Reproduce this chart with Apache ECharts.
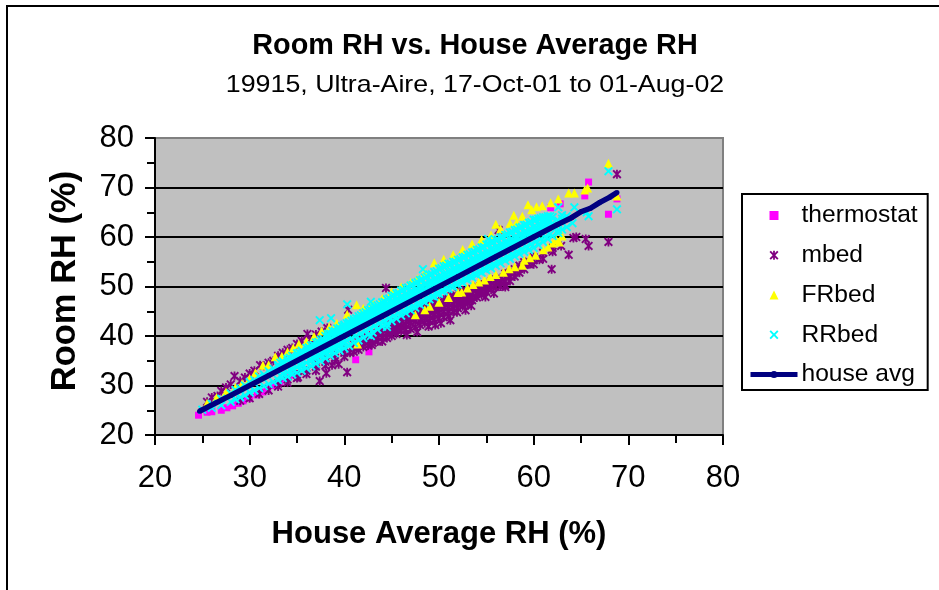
<!DOCTYPE html>
<html>
<head>
<meta charset="utf-8">
<title>Room RH vs. House Average RH</title>
<script src="https://cdn.jsdelivr.net/npm/echarts@6/dist/echarts.min.js"></script>
<style>
html, body { margin: 0; padding: 0; background: #fff; }
#chart { width: 939px; height: 590px; }
</style>
</head>
<body>
<div id="chart"></div>
<script>
// every row is [house avg, room RH, room RH, ...]
const thermostatRows = [
    [24.6,24],[25.5,24.6],[26,24.7],[27,25],[27.6,25.5],[28.2,25.9],[28.8,26.4],[29.3,26.9],[30,27.4],[30.8,28.1],
    [31.4,28.7],[31.9,29.3],[32.6,30],[33.2,30.7],[33.9,31.5],[34.6,32.1],[41.2,35.2],[42.6,36.8],
    [61.8,65.9],[62.8,66.7],[65.4,68.3],[65.8,71.1],[67.9,64.6],[68.8,67.7]
];
const mbedRows = [
    [25.5,26.7],[26,27.6],[26.6,27.9],[27,28.9],[27.5,29.6],[28,30.2],[28.4,31.9],[29,30.9],[29.5,31.6],[30,32.4],
    [30.5,33],[31.1,34.1],[31.5,34],[32,34.6],[32.5,35],[33,36],[33.5,36.6],[34,37.2],[34.5,37.6],[35,38.4],
    [35.5,39],[36.1,40.4],[36.4,39.3],[37,40.3],[37.6,40.9],[38.2,41.6],[40.4,45.3],[44.4,49.7],[56.3,61.4],[68.8,72.7],
    [29,26.9],[30,27.4],[31,28.3],[32,29],[33,29.8,30.4],[34,30.6,31.2],[35,31.5,32.2],[35.1,31.7],[36,32.3,33],
    [37,33,33.8,34.6],[37.4,30.9],[38,34,34.8,35.6],[38.1,32.5],[38.7,34.1],[39,34.9,35.6,36.4],[39.4,34.3],
    [40,35.8,36.6,37.4],[40.3,32.7],[40.6,36.6],[41,36.8,37.6,38.4],[41.5,37.2,38.1,38.9],[42,37.8,38.5,39.2],
    [42.5,38.1,38.9,39.7],[42.9,38.2],[43,38.6,39.3,40.1],[43.5,38.9,39.8,40.6],[44,38.9,39.7,40.5,41.3],
    [44.5,39.6,40.4,41.2,41.9],[45,40,40.8,41.6,42.3],[45.5,40.4,41.3,42.1,42.8],[46,41,41.8,42.6,43.2],
    [46.5,41.3,42.2,43,43.7],[47,41.4,42.6,43.4,44.2],[47.5,41.8,43,43.8,44.6],[48,42.2,43.2,44,44.8,45.4],
    [48.5,42.6,43.6,44.4,45.2,45.9],[49,43,44,44.8,45.6,46.4],[49.5,43.3,44.3,45.1,45.9,46.7],[50,43.6,44.6,45.4,46.2,47],
    [50.5,43.8,44.9,45.7,46.5,47.3],[51,44,45,45.8,46.6,47.4,48],[51.5,44.9,45.7,46.5,47.3,48.1],[51.9,44.8],
    [52,45.6,46.4,47.2,48,48.8],[52.5,46,46.9,47.7,48.5,49.2],[53,46.6,47.4,48.2,49],[53.5,47.2,47.9,48.7,49.5],
    [54,47.8,48.6,49.4,50],[54.5,48.3,49.1,49.9,50.4],[55,48.9,49.7,50.5],[55.5,49.4,50.2,51],[56,49.9,50.7,51.4],
    [56.5,50,50.9,51.7],[57,49.9,50.3,51.1,51.9,52.6],[57.5,51.1,52,52.8],[58,52,52.8,53.5],[58.5,52.8,53.6,54.2],
    [59,53.5,54.4,54.9],[59.5,54.5,55],[60,54.5,55.3,55.9],[60.6,55.4],[61,55.6,56.8],[61.9,53.5,57.4],[62,57,57.8],
    [62.9,58.2],[63.7,56.4],[64.2,59.8],[64.5,60],[65.5,59.6],[65.8,58.2],[67.9,59],
    [46.6,40.2],[47.7,40.8],[48.9,41.9],[49.6,42.2],[50.2,42.6],[51.2,43.2],[52.8,45.2],[53.4,46.1],[54.9,47.9],[55.8,48.6]
];
const frbedRows = [
    [25.5,26.4],[26.5,27.6],[27.5,28.7],[28.5,29.6],[29.2,30.4],[30,31.4],[30.6,32.6],[31.4,34.1],[32,34.2],[32.7,35.8],
    [33.4,35.9],[34,36.8],[34.6,37.6],[35.2,38.4],[36,38.9],[36.8,39.9],[37.6,41],[38.4,41.8],[39.2,42.6],[40.3,44.4],
    [41.3,46.3],[41.4,38.4],[42,45.6],[43,46.6],[44,47.6],[45,48.9],[46,49.9],[47,50.8],[47.7,51.5],[48.5,52.8],
    [49.5,54.8],[50.5,55.5],[51.5,56.4],[52.5,57.5],[53.5,58.6],[54.5,59.5],[55.5,60.4],[56,62.6],[56.5,61.6],[57.5,62.8],
    [57.9,64.4],[58.2,63],[58.8,64.2],[59.4,66.5],[59.8,65.5],[60.3,66.1],[60.9,66.3],[61.8,66.9],[62.6,67.7],[63.7,68.9],
    [64.3,68.9],[65.4,69.5],[65.7,69.9],[67.9,74.9],[68.8,68.3],
    [47.5,44.3],[48.5,45.3],[49,46],[50,46.8],[51,47.8],[52,48.8],[52.4,48.9],
    [53,49.7],[53.6,50.4],[54.2,50.9],[54.8,51.3],[55.4,52],[56,52.4],[56.8,52.9],[57.4,53.6],[58,54],[58.8,54.3],
    [59,55.3],[59.6,55.8],[60.2,56.3],[61,57.4],[61.5,58],[62,58.8],[62.4,59.4],[62.7,59],[63,60.2]
];
const rrbedRows = [
    [25,25.1],[26,25.5,26.3],[27,26,27.3],[28,26.7,28.4],[28.5,27.2,29.1],[29,27.6,29.4],[29.5,28,30],[30,28.6,30.7],
    [30.5,29,31.1],[31,29.5,31.8],[31.5,29.9,32.2],[32,30.3,32.9],[32.5,30.7,33.4],[33,31.1,33.9,34.2],
    [33.5,31.5,32.3,34.4,34.9],[34,31.8,32.7,35,35.4],[34.5,32.2,33.2,35.4,36],[35,32.6,33.7,35.9,36.5],
    [35.5,33,34.1,36.4,37],[36,33.5,34.6,36.9,37.6],[36.5,33.9,35.1,37.4,38.1],[37,34.4,35.6,37.9,38.7],
    [37.5,34.9,36.1,38.4,39.2],[38,35.5,36.6,38.9,40],[38.5,36,37.1,39.4,40.5],[39,36.5,37.6,39.9,41],
    [39.5,37,38.1,40.4,41.1,41.6],[40,37.5,38.6,40.9,42,42.3],[40.5,38,41.4,42.5,42.8],[41,38.6,41.9,43,43.4],
    [41.5,39.1,42.4,43.5,44],[42,39.6,42.9,44,44.6],[42.5,40.2,43.4,44.5,45.2],[43,40.7,43.9,45,45.7],
    [43.5,41.3,44.4,45.5,46.2],[44,41.9,44.9,46,46.8],[44.5,42.4,45.4,46.5,47.4],[45,43,45.9,47,48.1],
    [45.5,43.5,46.4,47.5,48.6],[46,44.1,46.9,48,49.2],[46.5,44.6,47.4,48.5,49.7],[47,45.2,47.9,49,50.2],
    [47.5,45.7,48.4,49.5,50.7],[48,46.3,48.9,50,51.3],[48.5,46.8,49.4,50.5,51.8],[49,47.4,49.9,51,52.4],
    [49.5,47.9,50.4,51.5,52.9],[50,48.5,50.9,52,53.6],[50.5,49,51.4,52.5,54.1],[51,49.5,51.9,53,54.6],
    [51.5,49.9,52.4,53.5,55],[52,50.4,52.9,54,55.4],[52.5,50.8,53.4,54.5,55.9],[53,51.3,53.9,55,56.4],
    [53.5,51.8,54.4,55.5,56.9],[54,52.3,54.9,56,57.4],[54.5,52.8,55.4,56.5,57.9],[55,53.3,55.9,57,58.5],
    [55.5,53.7,56.4,57.5,59],[56,54.2,56.9,58,59.4],[56.5,54.7,57.4,58.5,59.9],[57,55.2,57.9,59,60.4],
    [57.5,55.6,58.4,59.5,60.9],[58,56.1,58.9,60,61.4],[58.5,56.6,59.4,60.5,61.9],[59,57,59.9,61,62.4],
    [59.5,57.4,60.4,61.5,62.9],[60,57.8,60.9,62,63.5],[60.5,58.4,61.4,62.5,63.7],[61,59,61.9,63,64],
    [61.5,59.6,62.4,63.5,64.2],[62,60.2,62.8,64],[62.6,60.8,61.4,63.3,66],[63,61.5,63.7,64.4],[63.5,62,64.2],
    [37.4,43.2],[38.6,43.6],[40.3,46.4],[42.8,46.9,40],[44.5,41.8],[48.3,53.5],[55.2,59.6],[64.1,62.8],[64.3,66],
    [65.6,65],[65.8,64.2],[67.9,73.3],[68.8,65.6],
    // readings between the rows above, the band is solid in the picture
    [33.25,32,34.6],[34.25,33.1,35.6],[35.25,34.1,36.6],[36.25,35.1,37.7],[36.75,35.6,38.2],[37.25,36.1,38.8],[37.75,36.6,39.4],
    [38.25,37.1,39.9,40.4],[38.75,37.6,40.4,41],[39.25,38.1,40.8,41.5],[39.75,38.6,41.3,42],[40.25,39.1,41.7,42.6],
    [40.75,39.6,42.2,43.1],[41.25,40.1,42.7,43.6],[41.75,40.6,43.2,44.2],[42.25,41.1,43.7,44.8],[42.75,41.6,44.2,45.3],
    [43.25,42.1,44.7,45.8],[43.75,42.6,45.2,46.4],[44.25,43.1,45.7,46.9],[44.75,43.6,46.2,47.6],[45.25,44.1,46.7,48.2],
    [45.75,44.6,47.2,48.7],[46.25,45.1,47.7,49.3],[46.75,45.6,48.2,49.8],[47.25,46.1,48.7,50.3],[47.75,46.6,49.2,50.9],
    [48.25,47.1,49.7,51.4],[48.75,47.6,50.2,52],[49.25,48.1,50.7,52.5],[49.75,48.6,51.2,53.1],[50.25,49.1,51.7,53.7],
    [50.75,49.6,52.2,54.2],[51.25,50.1,52.7,54.6],[51.75,50.6,53.2,55],[52.25,51.1,53.7,55.5],[52.75,51.6,54.2,56],
    [53.25,52.1,54.7,56.5],[53.75,52.6,55.2,57],[54.25,53.1,55.7,57.5],[54.75,53.6,56.2,58],[55.25,54.1,56.7,58.6],
    [55.75,54.6,57.2,59],[56.25,55.1,57.7,59.5],[56.75,55.6,58.2,60],[57.25,56.1,58.7,60.5],[57.75,56.6,59.2,61],
    [58.25,57.1,59.7,61.5],[58.75,57.6,60.2,62],[59.25,58.1,60.7,62.5],[59.75,58.6,61.2,63],[60.25,59.1,61.7,63.5],
    [60.75,59.6,62.2,63.8],[61.25,60.1,62.7,64],[61.75,60.6,63.2,64.2]
];
const houseAvgRows = [
    [24.7,24.8],[28,28],[32,32],[36,36],[40,40],[44,44],[48,48],[52,52],[56,56],[60,60],
    [62.5,62.5],[64,63.9],[65,65.1],[66,65.8],[67,67],[68,68],[68.8,69]
];
const axisTicks = { min: 20, max: 80, step: 10 };
const titleText = 'Room RH vs. House Average RH';
const subtitleText = '19915, Ultra-Aire, 17-Oct-01 to 01-Aug-02';
const xTitle = 'House Average RH (%)';
const yTitle = 'Room RH (%)';

const squarePath = 'path://M0 0H10V10H0Z';
const trianglePath = 'path://M5 0L10 10H0Z';
const crossPath = 'path://M0 1.5L1.5 0L5 3.5L8.5 0L10 1.5L6.5 5L10 8.5L8.5 10L5 6.5L1.5 10L0 8.5L3.5 5Z';
const starPath = 'path://M0 1.5L1.5 0L5 3.5L8.5 0L10 1.5L6.5 5L10 8.5L8.5 10L5 6.5L1.5 10L0 8.5L3.5 5ZM4 0H6V10H4Z';

function toPoints(rows) {
    const points = [];
    rows.forEach(function (row) {
        for (let i = 1; i < row.length; i++) {
            points.push([row[0], row[i]]);
        }
    });
    return points;
}

function scatter(name, rows, symbol, size, color) {
    return {
        name: name,
        type: 'scatter',
        data: toPoints(rows),
        symbol: symbol,
        symbolSize: size,
        itemStyle: { color: color, opacity: 1 },
        silent: true
    };
}

function valueAxis(name, gap, nameSize) {
    return {
        type: 'value',
        min: axisTicks.min,
        max: axisTicks.max,
        interval: axisTicks.step,
        name: name,
        nameLocation: 'middle',
        nameGap: gap,
        nameTextStyle: { fontFamily: 'Liberation Sans', fontWeight: 'bold', fontSize: nameSize, color: '#000' },
        axisLine: { show: true, onZero: false, lineStyle: { color: '#000', width: 2 } },
        axisTick: { show: true, inside: false, length: 10, lineStyle: { color: '#000', width: 2 } },
        minorTick: { show: true, splitNumber: 2, length: 8, lineStyle: { color: '#000', width: 2 } },
        axisLabel: { fontFamily: 'Liberation Sans', fontSize: 31, color: '#000', margin: 21 }
    };
}

const chart = echarts.init(document.getElementById('chart'));
const xAxis = valueAxis(xTitle, 84, 31);
xAxis.splitLine = { show: false };
xAxis.axisLabel.margin = 28;
const yAxis = valueAxis(yTitle, 72, 34.5);
yAxis.nameTextStyle.padding = [0, 0, 0, 11];
yAxis.splitLine = { show: true, showMinLine: false, showMaxLine: false, lineStyle: { color: '#000', width: 2 } };

chart.setOption({
    animation: false,
    backgroundColor: '#fff',
    title: { text: titleText, left: 470, top: 27, textAlign: 'center',
        textStyle: { fontFamily: 'Liberation Sans', fontWeight: 'bold', fontSize: 28.8, color: '#000' } },
    grid: { left: 155, top: 138, width: 568, height: 297, show: true, backgroundColor: '#c0c0c0', borderColor: '#808080', borderWidth: 2 },
    xAxis: xAxis,
    yAxis: yAxis,
    legend: {
        orient: 'vertical',
        left: 742,
        top: 194,
        padding: [9, 10, 3, 6],
        borderColor: '#000',
        borderWidth: 2,
        backgroundColor: '#fff',
        itemWidth: 47,
        itemHeight: 9,
        itemGap: 14.75,
        lineStyle: { width: 5 },
        textStyle: { fontFamily: 'Liberation Sans', fontSize: 24.6, lineHeight: 24, color: '#000', padding: [0, 0, 0, -1] },
        data: ['thermostat', 'mbed', 'FRbed', 'RRbed', 'house avg']
    },
    graphic: [
        { type: 'rect', z: -1, shape: { x: 7, y: 6, width: 960, height: 620 },
          style: { fill: 'none', stroke: '#000', lineWidth: 2 } },
        { type: 'text', x: 475, y: 85, scaleX: 1.115,
          style: { text: subtitleText, font: '24px "Liberation Sans"', fill: '#000', textAlign: 'center', textVerticalAlign: 'middle' } }
    ],
    series: [
        scatter('thermostat', thermostatRows, squarePath, 7, '#ff00ff'),
        scatter('mbed', mbedRows, starPath, 9, '#800080'),
        scatter('FRbed', frbedRows, trianglePath, 9, '#ffff00'),
        scatter('RRbed', rrbedRows, crossPath, 9, '#00ffff'),
        {
            name: 'house avg',
            type: 'line',
            data: houseAvgRows,
            symbol: 'circle',
            symbolSize: 5,
            showSymbol: true,
            itemStyle: { color: '#000080' },
            lineStyle: { color: '#000080', width: 5.5 },
            silent: true
        }
    ]
});
</script>
</body>
</html>
